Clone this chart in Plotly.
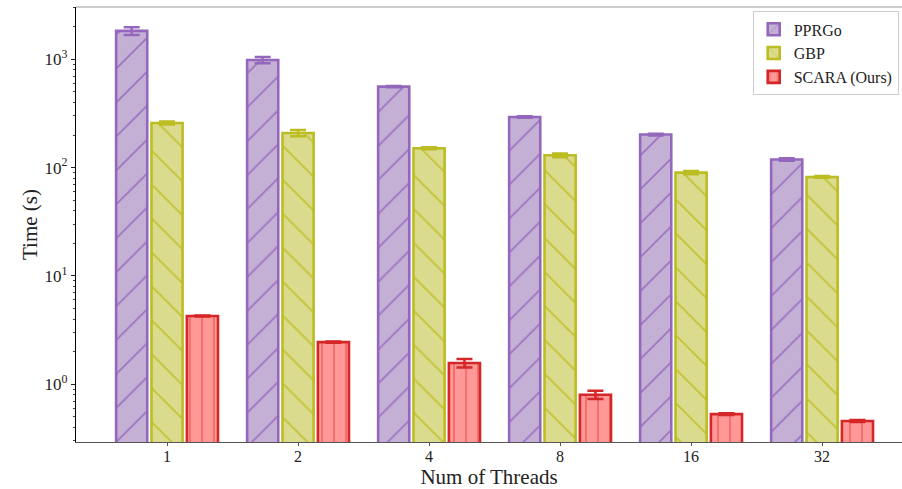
import plotly.graph_objects as go

threads = ["1", "2", "4", "8", "16", "32"]
pprgo = [1830, 985, 560, 293, 202, 119]
pprgo_err = [150, 65, 8, 5, 4, 3]
gbp = [258, 209, 151, 130, 90, 82]
gbp_err = [8, 14, 3, 5, 3, 1.5]
scara = [4.27, 2.45, 1.57, 0.80, 0.53, 0.458]
scara_err = [0.05, 0.03, 0.14, 0.07, 0.01, 0.01]

series = [
    ("PPRGo", pprgo, pprgo_err, "#c5b0d5", "#9467bd", "/", 24),
    ("GBP", gbp, gbp_err, "#dbdb8d", "#bcbd22", "\\", 24),
    ("SCARA (Ours)", scara, scara_err, "#ff9896", "#d62728", "|", 12),
]

FONT = "Liberation Serif"
fig = go.Figure()
for name, vals, errs, fill, edge, shape, size in series:
    fig.add_trace(go.Bar(
        x=threads, y=vals, name=name,
        error_y=dict(type="data", array=errs, visible=True, color=edge,
                     thickness=2.5, width=8),
        marker=dict(color=fill, line=dict(color=edge, width=2.6),
                    pattern=dict(shape=shape, fgcolor=edge, bgcolor=fill,
                                 size=size, solidity=0.07, fgopacity=0.85,
                                 fillmode="replace")),
    ))

fig.update_layout(
    width=902, height=489,
    margin=dict(l=76, r=0, t=7, b=47),
    paper_bgcolor="white", plot_bgcolor="white",
    barmode="group", bargap=0.19, bargroupgap=0.12,
    font=dict(family=FONT, color="#222"),
    showlegend=True,
    legend=dict(x=0.996, y=0.99, xanchor="right", yanchor="top",
                bgcolor="white", bordercolor="#cccccc", borderwidth=1,
                font=dict(family=FONT, size=16, color="#222"),
                itemwidth=30, tracegroupgap=0),
    xaxis=dict(type="category", range=[-0.695, 5.61],
               showline=True, linecolor="#555", linewidth=1.2,
               ticks="outside", ticklen=3, tickcolor="#555",
               tickfont=dict(family=FONT, size=16, color="#222"),
               ticklabelstandoff=-3,
               title=dict(text="Num of Threads", standoff=0,
                          font=dict(family=FONT, size=21, color="#222")),
               showgrid=False, zeroline=False),
    yaxis=dict(type="log", range=[-0.533, 3.483],
               showline=True, linecolor="black", linewidth=1.2,
               ticks="outside", ticklen=4, tickcolor="#222",
               tickvals=[1, 10, 100, 1000],
               ticktext=["10<sup>0</sup>", "10<sup>1</sup>", "10<sup>2</sup>", "10<sup>3</sup>"],
               tickfont=dict(family=FONT, size=17, color="#222"),
               minor=dict(ticks="outside", ticklen=2, tickcolor="#444",
                          dtick="D1", showgrid=False),
               title=dict(text="Time (s)", standoff=1,
                          font=dict(family=FONT, size=21, color="#222")),
               showgrid=False, zeroline=False),
    shapes=[dict(type="line", xref="paper", yref="paper", x0=0, x1=1, y0=1, y1=1,
                 line=dict(color="#999", width=1.2))],
)

fig.write_html("out.html", config={"displayModeBar": False},
               post_script="document.body.style.margin='0';")
